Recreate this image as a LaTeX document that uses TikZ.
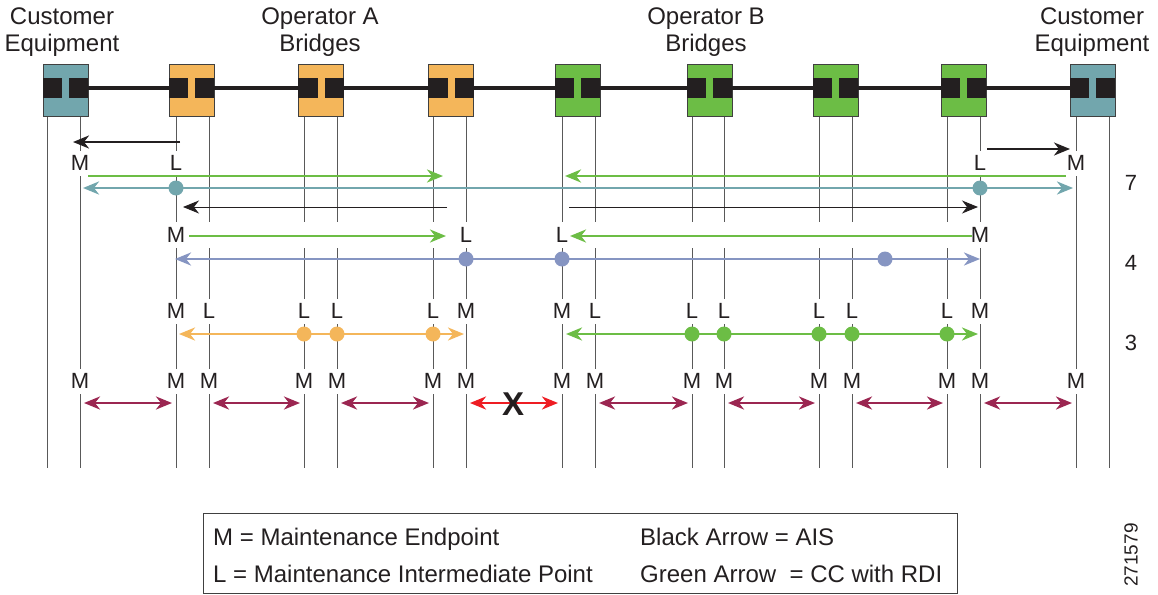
\documentclass[tikz,border=0pt]{standalone}
\usepackage{fontspec}
\setmainfont{Liberation Sans}
\usetikzlibrary{arrows.meta}
\definecolor{custteal}{HTML}{72A6AD}
\definecolor{opaorange}{HTML}{F4B65A}
\definecolor{opbgreen}{HTML}{6CBD45}
\definecolor{mipblue}{HTML}{8695C2}
\definecolor{hopred}{HTML}{9B2651}
\definecolor{cutred}{HTML}{EE1D23}
\definecolor{inkblack}{HTML}{231F20}

\begin{document}
\begin{tikzpicture}
[every node/.style={inner sep=0pt},
 >={Stealth[length=16pt, width=13pt, inset=5pt]},
 bridge/.style={rectangle, minimum width=45pt, minimum height=52pt, line width=0.8pt, draw=black!75},
 link/.style={line width=4pt, color=inkblack},
 vline/.style={line width=0.9pt, color=black!65},
 tag/.style={fill=white, minimum height=25pt, inner xsep=1pt, text=inkblack, font=\fontsize{22}{22}\selectfont},
 head/.style={align=center, text=inkblack, font=\fontsize{24}{27}\selectfont},
 keytext/.style={anchor=base west, text=inkblack, font=\fontsize{24}{24}\selectfont},
 mip/.style={circle, minimum size=15pt},
 flow/.style={line width=2.6pt, ->},
 ais/.style={line width=2.4pt, color=inkblack, ->},
 aisthin/.style={line width=1pt, color=inkblack, ->},
 hop/.style={line width=2.6pt, <->, shorten <=4pt, shorten >=4pt}]
\useasboundingbox (0pt,0pt) rectangle (1158pt,-594pt);

\foreach \x in {47,80,1076,1109}
  \draw [vline] (\x pt,-116pt) -- (\x pt,-468pt);
\foreach \x in {176,209,304,337,433,466,562,595,692,724,819,852,947,980}
  \draw [vline] (\x pt,-116pt) -- (\x pt,-222pt) (\x pt,-248pt) -- (\x pt,-468pt);

\foreach \n/\x/\col in {ce1/65.5/custteal, a1/191.5/opaorange, a2/321/opaorange, a3/451/opaorange, b1/577.5/opbgreen, b2/709.5/opbgreen, b3/835.5/opbgreen, b4/963.5/opbgreen, ce2/1092.5/custteal} {
  \node (\n) [bridge, fill=\col] at (\x pt,-90pt) {};
  \fill [inkblack] ([yshift=12pt]\n.west) rectangle ([xshift=-3.5pt,yshift=-8pt]\n.center);
  \fill [inkblack] ([xshift=3.5pt,yshift=12pt]\n.center) rectangle ([yshift=-8pt]\n.east);
}
\foreach \u/\v in {ce1/a1,a1/a2,a2/a3,a3/b1,b1/b2,b2/b3,b3/b4,b4/ce2}
  \draw [link] ([yshift=2pt]\u.east) -- ([yshift=2pt]\v.west);

\node (custl) [head] at (62pt,-32pt) {Customer\\Equipment};
\node (opa) [head] at (320pt,-32pt) {Operator A\\Bridges};
\node (opb) [head] at (706pt,-32pt) {Operator B\\Bridges};
\node (custr) [head] at (1092pt,-32pt) {Customer\\Equipment};

\foreach \x/\t in {80/M,176/L,980/L,1076/M}
  \node (r1-\x) [tag] at (\x pt,-163pt) {\t};
\foreach \x/\t in {176/M,466/L,562/L,980/M}
  \node (r2-\x) [tag] at (\x pt,-235pt) {\t};
\foreach \x/\t in {176/M,209/L,304/L,337/L,433/L,466/M,562/M,595/L,692/L,724/L,819/L,852/L,947/L,980/M}
  \node (r3-\x) [tag] at (\x pt,-311pt) {\t};
\foreach \x in {80,176,209,304,337,433,466,562,595,692,724,819,852,947,980,1076}
  \node (r4-\x) [tag] at (\x pt,-381pt) {M};

\foreach \n/\x/\y in {k1s/180/142, k1e/73/142, k2s/987/149, k2e/1070/149,
    g1s/88/176, g1e/443/176, g2s/1066/176, g2e/565/176, t1/83/188, t2/1073/188,
    k3s/447/207, k3e/183/207, k4s/569/207, k4e/978/207,
    g3s/189/236, g3e/446/236, g4s/972/236, g4e/570/236, u1/175/259, u2/980/259,
    o1/179/334, o2/464/334, g5s/566/334, g5e/978/334}
  \coordinate (\n) at (\x pt,-\y pt);

\draw [ais] (k1s) -- (k1e);
\draw [ais] (k2s) -- (k2e);
\draw [flow, color=opbgreen] (g1s) -- (g1e);
\draw [flow, color=opbgreen] (g2s) -- (g2e);
\draw [flow, <->, color=custteal] (t1) -- (t2);
\draw [aisthin] (k3s) -- (k3e);
\draw [aisthin] (k4s) -- (k4e);
\draw [flow, color=opbgreen] (g3s) -- (g3e);
\draw [flow, color=opbgreen] (g4s) -- (g4e);
\draw [flow, <->, color=mipblue] (u1) -- (u2);
\draw [flow, <->, color=opaorange] (o1) -- (o2);
\draw [flow, <->, color=opbgreen] (g5s) -- (g5e);

\foreach \x in {176,980}
  \node (t-\x) [mip, fill=custteal] at (\x pt,-188pt) {};
\foreach \x in {466,562,885}
  \node (u-\x) [mip, fill=mipblue] at (\x pt,-259pt) {};
\foreach \x in {304,337,433}
  \node (o-\x) [mip, fill=opaorange] at (\x pt,-334pt) {};
\foreach \x in {692,724,819,852,947}
  \node (g-\x) [mip, fill=opbgreen] at (\x pt,-334pt) {};

\foreach \a/\b in {80/176,209/304,337/433,595/692,724/819,852/947,980/1076} {
  \coordinate (h\a) at (\a pt,-403pt);
  \coordinate (h\b) at (\b pt,-403pt);
  \draw [hop, color=hopred] (h\a) -- (h\b);
}
\coordinate (h466) at (466pt,-403pt);
\coordinate (h562) at (562pt,-403pt);
\draw [hop, color=cutred] (h466) -- (h562);
\node (cut) [text=inkblack, font=\fontsize{33}{33}\selectfont\bfseries] at (513pt,-404pt) {X};

\node (n7) [text=inkblack, font=\fontsize{22}{22}\selectfont] at (1131pt,-183pt) {7};
\node (n4) [text=inkblack, font=\fontsize{22}{22}\selectfont] at (1131pt,-263pt) {4};
\node (n3) [text=inkblack, font=\fontsize{22}{22}\selectfont] at (1131pt,-343pt) {3};

\node (key) [draw=black!75, line width=0.8pt, minimum width=754pt, minimum height=80pt] at (580pt,-553pt) {};
\node (keym) [keytext] at (213pt,-545pt) {M = Maintenance Endpoint};
\node (keyl) [keytext] at (213pt,-582pt) {L = Maintenance Intermediate Point};
\node (keyk) [keytext] at (640pt,-545pt) {Black Arrow = AIS};
\node (keyg) [keytext] at (640pt,-582pt) {Green Arrow\ \ = CC with RDI};

\node (fig) [rotate=90, text=inkblack, font=\fontsize{19}{19}\selectfont] at (1131pt,-555pt) {271579};
\end{tikzpicture}
\end{document}
